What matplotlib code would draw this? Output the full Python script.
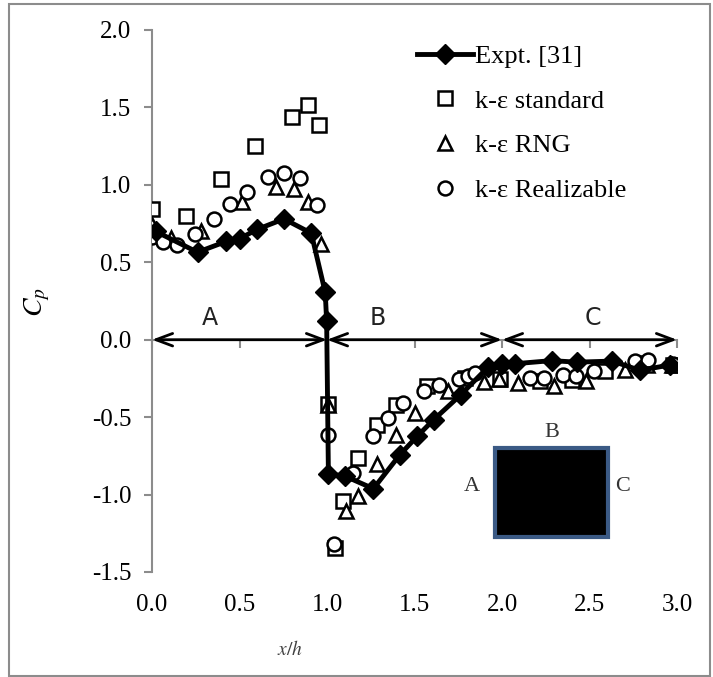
import matplotlib.pyplot as plt
from matplotlib.lines import Line2D
from matplotlib.patches import Rectangle

# experiment (smoothed line in original)
expt_x = [0.02, 0.26, 0.425, 0.50, 0.60, 0.754, 0.91, 0.99, 0.998, 1.008,
          1.105, 1.265, 1.417, 1.515, 1.61, 1.765, 1.922, 1.998, 2.074,
          2.284, 2.427, 2.63, 2.789, 2.96]
expt_y = [0.70, 0.565, 0.635, 0.652, 0.712, 0.78, 0.688, 0.305, 0.118, -0.865,
          -0.882, -0.962, -0.742, -0.624, -0.516, -0.355, -0.175, -0.155, -0.155,
          -0.135, -0.145, -0.138, -0.198, -0.163]

std_x = [0.0, 0.193, 0.396, 0.589, 0.80, 0.893, 0.956, 1.003, 1.045, 1.09,
         1.177, 1.284, 1.396, 1.573, 1.789, 1.989, 2.217, 2.398, 2.589, 2.789, 2.977]
std_y = [0.845, 0.80, 1.035, 1.252, 1.437, 1.516, 1.387, -0.415, -1.344, -1.041,
         -0.766, -0.548, -0.419, -0.30, -0.247, -0.254, -0.269, -0.258, -0.204, -0.150, -0.161]

rng_x = [0.0, 0.107, 0.28, 0.512, 0.706, 0.81, 0.893, 0.965, 1.003, 1.109,
         1.179, 1.284, 1.392, 1.503, 1.693, 1.897, 1.98, 2.093, 2.298, 2.478,
         2.70, 2.83, 2.97]
rng_y = [0.742, 0.656, 0.70, 0.887, 0.985, 0.975, 0.889, 0.616, -0.42, -1.103,
         -1.011, -0.801, -0.613, -0.473, -0.333, -0.275, -0.255, -0.28, -0.301, -0.269,
         -0.194, -0.161, -0.161]

real_x = [0.0, 0.065, 0.143, 0.248, 0.354, 0.446, 0.545, 0.665, 0.755, 0.844,
          0.941, 1.003, 1.041, 1.147, 1.263, 1.35, 1.437, 1.552, 1.641, 1.755,
          1.808, 1.846, 2.16, 2.24, 2.35, 2.42, 2.525, 2.76, 2.836, 2.975]
real_y = [0.665, 0.632, 0.614, 0.68, 0.78, 0.874, 0.955, 1.052, 1.078, 1.047,
          0.871, -0.616, -1.32, -0.858, -0.624, -0.505, -0.409, -0.33, -0.29, -0.255,
          -0.236, -0.215, -0.25, -0.25, -0.226, -0.232, -0.201, -0.14, -0.129, -0.155]

region_edges = [0.0, 1.0, 2.0, 3.0]
region_labels = ["A", "B", "C"]
region_label_x = [0.33, 1.29, 2.52]

SERIF = "Liberation Serif"
plt.rcParams["mathtext.fontset"] = "stix"

fig = plt.figure(figsize=(7.13, 6.77), dpi=100)
ax = fig.add_axes([152 / 713, 1 - 572 / 677, 525 / 713, 542 / 677])

# outer chart border
fig.patches.append(Rectangle((9 / 713, 1 / 677), 701 / 713, 672 / 677,
                             transform=fig.transFigure, fill=False,
                             edgecolor="#8c8c8c", lw=1.5))

ms = 10
mew = 1.8
ax.plot(std_x, std_y, ls="none", marker="s", ms=ms, mfc="white",
        mec="black", mew=mew, zorder=3)
ax.plot(rng_x, rng_y, ls="none", marker="^", ms=ms, mfc="white",
        mec="black", mew=mew, zorder=3)
ax.plot(real_x, real_y, ls="none", marker="o", ms=ms, mfc="white",
        mec="black", mew=mew, zorder=3)
ax.plot(expt_x, expt_y, color="black", lw=3.5, marker="D", ms=10,
        solid_joinstyle="round", zorder=4)

# region arrows along y = 0
for i, lab in enumerate(region_labels):
    x0, x1 = region_edges[i], region_edges[i + 1]
    ax.annotate("", xy=(x1, 0), xytext=(x0, 0),
                arrowprops=dict(arrowstyle="<->,head_length=1.2,head_width=0.45",
                                lw=2, color="black", shrinkA=0, shrinkB=0),
                zorder=5)
    ax.text(region_label_x[i], 0.065, lab, fontsize=17, family="DejaVu Sans",
            color="#222222", ha="center", va="bottom")

# inset: building cross-section
ax.add_patch(Rectangle((1.96, -1.277), 0.646, 0.58, facecolor="black",
                       edgecolor="#3b5a85", lw=3, zorder=2))
ax.text(2.286, -0.60, "B", fontsize=16, family=SERIF, color="#333333",
        ha="center", va="center")
ax.text(1.83, -0.948, "A", fontsize=16, family=SERIF, color="#333333",
        ha="center", va="center")
ax.text(2.69, -0.948, "C", fontsize=16, family=SERIF, color="#333333",
        ha="center", va="center")

ax.set_xlim(0, 3)
ax.set_ylim(-1.5, 2.0)
ax.set_xticks([0, 0.5, 1, 1.5, 2, 2.5, 3])
ax.set_yticks([-1.5, -1.0, -0.5, 0, 0.5, 1.0, 1.5, 2.0])
ax.set_xticklabels([f"{v:.1f}" for v in ax.get_xticks()])
ax.set_yticklabels([f"{v:.1f}" for v in ax.get_yticks()])

for s in ["top", "right", "bottom"]:
    ax.spines[s].set_visible(False)
ax.spines["left"].set_color("#8c8c8c")
ax.spines["left"].set_linewidth(1.5)
ax.tick_params(axis="y", direction="out", length=6, width=1.5,
               color="#8c8c8c", pad=9, labelsize=18)
ax.tick_params(axis="x", length=0, pad=16, labelsize=18)
for lbl in ax.get_xticklabels() + ax.get_yticklabels():
    lbl.set_family(SERIF)

# horizontal axis line crossing at y = 0 (Excel style)
sec = ax.secondary_xaxis(0, transform=ax.transData)
sec.spines["bottom"].set_color("#8c8c8c")
sec.spines["bottom"].set_linewidth(1.5)
sec.set_xticks([0, 0.5, 1, 1.5, 2, 2.5, 3])
sec.tick_params(axis="x", direction="out", length=6, width=1.5,
                color="#8c8c8c", labelbottom=False)

ax.set_ylabel("$C_p$", fontsize=20)
ax.yaxis.set_label_coords(-(152 - 52) / 525, (572 - 302) / 542)
ax.set_xlabel("$x/h$", fontsize=14, color="#404040")
ax.xaxis.set_label_coords((290 - 152) / 525, -(640 - 572) / 542)

handles = [
    Line2D([], [], color="black", lw=3.5, marker="D", ms=10),
    Line2D([], [], ls="none", marker="s", ms=ms, mfc="white", mec="black", mew=mew),
    Line2D([], [], ls="none", marker="^", ms=ms, mfc="white", mec="black", mew=mew),
    Line2D([], [], ls="none", marker="o", ms=ms, mfc="white", mec="black", mew=mew),
]
labels = ["Expt. [31]", "k-\u03b5 standard", "k-\u03b5 RNG", "k-\u03b5 Realizable"]
ax.legend(handles, labels, loc="upper left", bbox_to_anchor=(0.505, 0.973),
          frameon=False, prop={"family": SERIF, "size": 19}, handlelength=2.1,
          handletextpad=0.1, labelspacing=0.8, borderpad=0, borderaxespad=0,
          numpoints=1)

fig.savefig("out.png", dpi=100)
